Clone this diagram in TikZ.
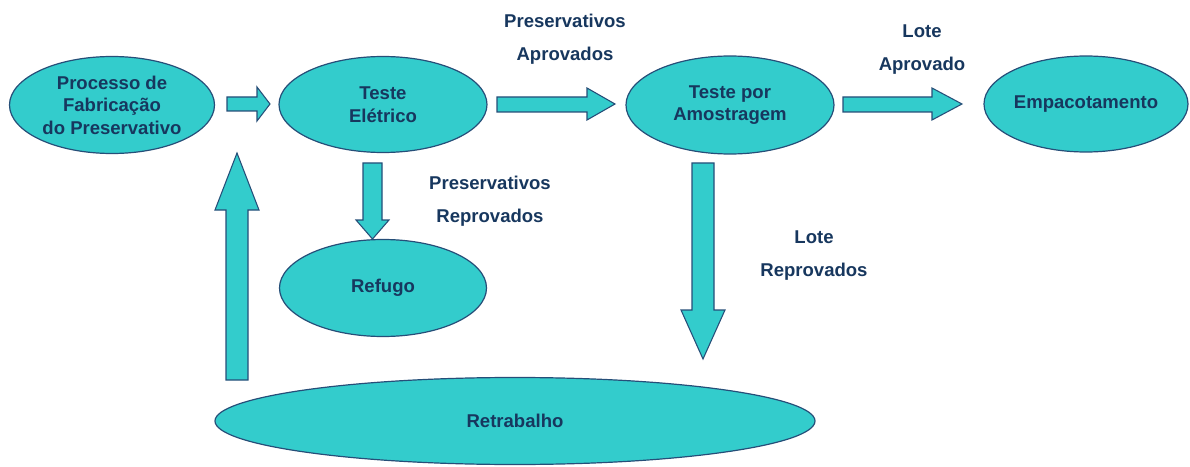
\documentclass[tikz,border=0pt]{standalone}
\usepackage{fontspec}
\setmainfont{Liberation Sans}
\usetikzlibrary{shapes.geometric}
\definecolor{fillc}{RGB}{51,204,204}
\definecolor{linec}{RGB}{38,78,120}
\definecolor{txtc}{RGB}{23,55,94}
\begin{document}
\begin{tikzpicture}[x=0.75pt,y=-0.75pt,
  stage/.style={ellipse,draw=linec,line width=0.9pt,fill=fillc,inner sep=0pt,
    text=txtc,align=center,font=\fontsize{13.9}{16.9}\selectfont\bfseries},
  lbl/.style={text=txtc,align=center,font=\fontsize{13.9}{24.8}\selectfont\bfseries},
  barrow/.style={draw=linec,line width=0.8pt,fill=fillc,line join=miter}]
\useasboundingbox (0,0) rectangle (1190,467);
% stages
\node[stage,minimum width=153.75pt,minimum height=72.75pt] (proc) at (112,105) {Processo de\\Fabrica\c{c}\~ao\\do Preservativo};
\node[stage,minimum width=156pt,minimum height=72pt] (ele) at (383,104.5) {Teste\\El\'etrico};
\node[stage,minimum width=156pt,minimum height=73.5pt] (amo) at (730,105) {Teste por\\Amostragem};
\node[stage,minimum width=153pt,minimum height=72pt] (emp) at (1086,104) {Empacotamento};
\node[stage,minimum width=155.25pt,minimum height=72.75pt] (ref) at (383,288) {Refugo};
\node[stage,minimum width=450pt,minimum height=65.25pt] (ret) at (515,421) {Retrabalho};
% block arrows
\draw[barrow] (227,97) -- (257,97) -- (257,87) -- (270,104) -- (257,121) -- (257,111) -- (227,111) -- cycle;
\draw[barrow] (497,97) -- (587,97) -- (587,88) -- (615,104) -- (587,120) -- (587,112) -- (497,112) -- cycle;
\draw[barrow] (843,97) -- (932,97) -- (932,88) -- (962,104) -- (932,120) -- (932,112) -- (843,112) -- cycle;
\draw[barrow] (363,163) -- (363,220) -- (356,220) -- (372.5,239) -- (389,220) -- (382,220) -- (382,163) -- cycle;
\draw[barrow] (692,163) -- (692,310) -- (681,310) -- (703,359) -- (725,310) -- (714,310) -- (714,163) -- cycle;
\draw[barrow] (226,380) -- (226,210) -- (215,210) -- (237,153) -- (259,210) -- (248,210) -- (248,380) -- cycle;
% labels
\node[lbl] (l1) at (565,39) {Preservativos\\Aprovados};
\node[lbl] (l2) at (922,49.5) {Lote\\Aprovado};
\node[lbl] (l3) at (490,201.5) {Preservativos\\Reprovados};
\node[lbl] (l4) at (814,255.5) {Lote\\Reprovados};
\end{tikzpicture}
\end{document}
